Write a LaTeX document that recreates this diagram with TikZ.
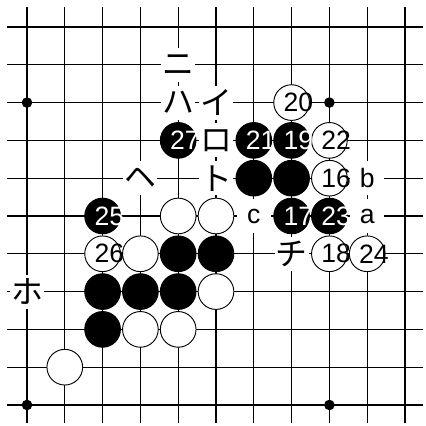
\documentclass[tikz,border=0pt]{standalone}
\usepackage{fontspec}
\setmainfont{Liberation Sans}
\newfontfamily\jpfont{Noto Sans CJK JP}
\usetikzlibrary{positioning, calc}

\tikzset{
  wstone/.style={circle, draw=black, line width=0.7pt, fill=white, minimum size=0.944cm, inner sep=0pt},
  bstone/.style={circle, draw=black, line width=0.7pt, fill=black, minimum size=0.944cm, inner sep=0pt},
  wnum/.style={inner sep=0pt, text=black},
  bnum/.style={inner sep=0pt, text=white},
  lab/.style={fill=white, inner sep=0pt, minimum size=0.9cm},
  kana/.style={lab, font=\jpfont\fontsize{24}{28}\selectfont}
}

\begin{document}
\begin{tikzpicture}[font=\fontsize{20}{24}\selectfont]
  \useasboundingbox (-0.714,0.714) rectangle (10.556,-10.556);
  \draw[step=1cm, line width=0.8pt] (-0.52,-10.48) grid (10.48,0.52);
  \foreach \x/\y in {0/2, 8/2, 0/10, 8/10}
    \fill (\x,-\y) circle (0.14);
  % pietre senza numero
  \foreach \x/\y in {4/5, 5/5, 3/6, 5/7, 3/8, 4/8, 1/9}
    \node[wstone] (w\x\y) at (\x,-\y) {};
  \foreach \x/\y in {6/4, 7/4, 4/6, 5/6, 2/7, 3/7, 4/7, 2/8}
    \node[bstone] (b\x\y) at (\x,-\y) {};
  % pietre numerate
  \foreach \x/\y/\n in {7/2/20, 8/3/22, 8/4/16, 2/6/26, 8/6/18, 9/6/24}{
    \node[wstone] (s\n) at (\x,-\y) {};
    \node[wnum] (t\n) at ([xshift=0.18cm]s\n.center) {\n};
  }
  \foreach \x/\y/\n in {4/3/27, 6/3/21, 7/3/19, 2/5/25, 7/5/17, 8/5/23}{
    \node[bstone] (s\n) at (\x,-\y) {};
    \node[bnum] (t\n) at ([xshift=0.18cm]s\n.center) {\n};
  }
  % lettere sui punti liberi
  \node[kana] (ni) at (4,-1) {ニ};
  \node[kana] (ha) at (4,-2) {ハ};
  \node[kana] (i)  at (5,-2) {イ};
  \node[kana] (ro) at (5,-3) {ロ};
  \node[kana] (to) at (5,-4) {ト};
  \node[kana] (he) at (3,-4) {ヘ};
  \node[kana] (chi) at (7,-6) {チ};
  \node[kana] (ho) at (0,-7) {ホ};
  \node[lab] (la) at (9,-5) {a};
  \node[lab] (lb) at (9,-4) {b};
  \node[lab] (lc) at (6,-5) {c};
\end{tikzpicture}
\end{document}
